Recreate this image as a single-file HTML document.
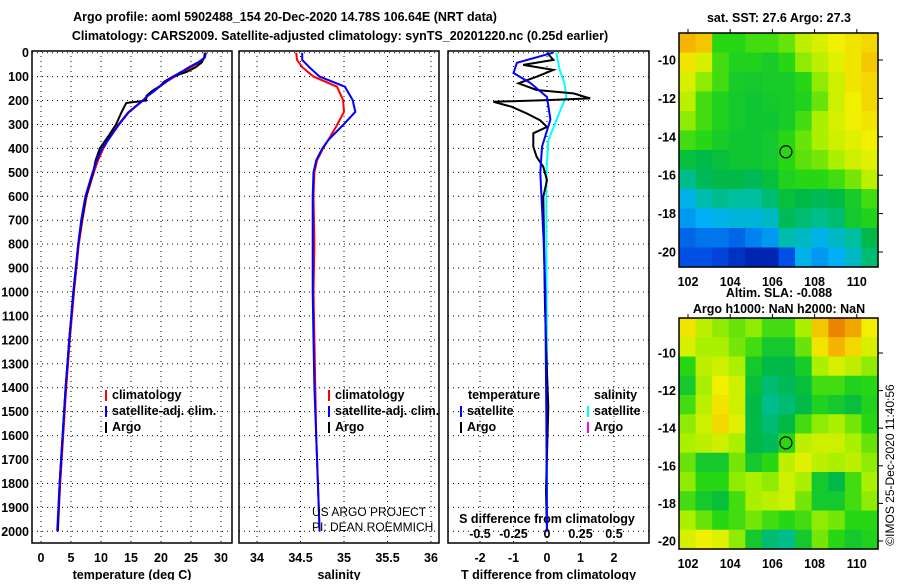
<!DOCTYPE html>
<html><head><meta charset="utf-8"><style>
body{margin:0;background:#fff}
svg{font-family:"Liberation Sans",sans-serif;}
.b{font-weight:bold;font-size:12.5px}
</style></head><body>
<svg id="s" width="900" height="580" viewBox="0 0 900 580" xmlns="http://www.w3.org/2000/svg">
<text class="b" x="285" y="21" text-anchor="middle" font-size="13.5">Argo profile: aoml 5902488_154 20-Dec-2020 14.78S 106.64E (NRT data)</text>
<text class="b" x="340" y="40" text-anchor="middle" font-size="13.5">Climatology: CARS2009. Satellite-adjusted climatology: synTS_20201220.nc (0.25d earlier)</text>
<text class="b" x="779" y="22" text-anchor="middle">sat. SST: 27.6 Argo: 27.3</text>
<text class="b" x="779" y="297" text-anchor="middle">Altim. SLA: -0.088</text>
<text class="b" x="779" y="313" text-anchor="middle">Argo h1000: NaN h2000: NaN</text>
<text x="894" y="465" font-size="12" text-anchor="middle" transform="rotate(-90 894 465)">©IMOS 25-Dec-2020 11:40:56</text>
<g id="g"></g>
</svg>
<script>
// temperature profile data
const tDepth=[0,20,40,60,80,100,120,140,160,180,200,210,250,300,350,400,450,500,600,700,800,900,1000,1200,1400,1600,1800,2000];
const tClim=[27.4,27.3,26.5,25,23.8,22.3,21,19.9,18.8,17.8,16.9,16.4,14.5,12.9,11.5,10.4,9.5,8.8,7.6,6.9,6.3,5.9,5.5,4.8,4.2,3.7,3.2,2.8];
const tSat=[27.5,27.3,26.2,24.7,23.4,22,20.9,19.8,18.9,17.8,17,16.5,14.6,13,11.6,10.2,9.3,8.6,7.4,6.7,6.2,5.8,5.4,4.7,4.1,3.6,3.1,2.7];
const tArgo=[27.3,27.2,26.8,25.8,24.3,22,20.6,19.8,18.5,17.6,17.5,14.2,13.4,12.5,11.2,9.8,9.1,8.7,7.5,6.8,6.2,5.8,5.4,4.7,4.1,3.6,3.1,2.8];
// salinity profile data
const sDepth=[0,30,60,100,142,198,247,302,365,400,450,500,600,800,1000,1200,1400,1600,1800,2000];
const sClim=[34.45,34.46,34.52,34.65,34.92,34.99,35.0,34.92,34.82,34.76,34.69,34.66,34.65,34.66,34.65,34.66,34.67,34.68,34.7,34.72];
const sSat=[34.52,34.52,34.6,34.72,35.01,35.1,35.13,34.99,34.82,34.75,34.68,34.65,34.64,34.64,34.64,34.65,34.66,34.68,34.7,34.72];
// difference data
const dTArgoDepth=[0,30,51,72,100,128,156,170,191,198,205,226,254,282,310,337,393,435,477,533,602,784,1063,1340,1481,1830,2000];
const dTArgo=[0,0.19,-0.71,0.19,-0.3,-0.85,-0.31,0.79,1.29,0,-1.6,-1.05,-0.6,-0.21,0,-0.41,-0.41,-0.31,-0.11,0,-0.11,-0.09,-0.06,0,0.04,-0.03,0];
const dTSatDepth=[0,42,85,126,185,280,393,502,645,782,1000,1500,2000];
const dTSat=[0.18,-0.9,-1.0,-0.5,0,0.1,-0.15,-0.2,-0.15,-0.1,-0.05,-0.02,0];
const dSSatDepth=[0,3,72,128,184,226,282,366,505,784,1340,2000];
const dSSat=[0.07,0.07,0.095,0.13,0.145,0.11,0.07,0.01,-0.005,-0.005,0.0,0.0];
const depthTicks=[0,100,200,300,400,500,600,700,800,900,1000,1100,1200,1300,1400,1500,1600,1700,1800,1900,2000];
const tTicks=[0,5,10,15,20,25,30];
const sTicks=[34,34.5,35,35.5,36];
const dTTicks=[-2,-1,0,1,2];
const dSTicks=[-0.5,-0.25,0,0.25,0.5];
const dSTickLabels=["-0.5","-0.25","0","0.25","0.5"];
// maps (rows top->bottom, cols west->east), normalized colour values
const sstGrid=[
[0.88,0.85,0.6,0.6,0.62,0.62,0.65,0.72,0.75,0.78,0.8,0.82],
[0.8,0.75,0.62,0.58,0.58,0.56,0.6,0.68,0.72,0.76,0.8,0.85],
[0.75,0.68,0.62,0.56,0.55,0.56,0.56,0.6,0.68,0.74,0.8,0.82],
[0.72,0.62,0.58,0.55,0.54,0.55,0.56,0.58,0.65,0.74,0.78,0.82],
[0.68,0.62,0.58,0.55,0.54,0.54,0.56,0.62,0.7,0.75,0.78,0.8],
[0.62,0.6,0.56,0.54,0.54,0.55,0.6,0.65,0.7,0.74,0.76,0.78],
[0.52,0.5,0.52,0.54,0.54,0.55,0.6,0.64,0.66,0.7,0.74,0.76],
[0.42,0.48,0.5,0.5,0.48,0.52,0.58,0.6,0.6,0.62,0.66,0.72],
[0.3,0.38,0.42,0.4,0.4,0.45,0.52,0.5,0.48,0.5,0.56,0.62],
[0.25,0.28,0.3,0.32,0.32,0.35,0.48,0.45,0.42,0.45,0.55,0.58],
[0.18,0.2,0.2,0.18,0.22,0.25,0.38,0.35,0.3,0.35,0.4,0.5],
[0.15,0.15,0.12,0.08,0.05,0.05,0.15,0.3,0.25,0.28,0.35,0.45]];
const slaGrid=[
[0.8,0.72,0.68,0.65,0.68,0.62,0.62,0.7,0.85,0.95,0.9,0.78],
[0.75,0.7,0.7,0.66,0.62,0.55,0.55,0.65,0.8,0.88,0.82,0.75],
[0.6,0.72,0.74,0.7,0.55,0.5,0.5,0.56,0.7,0.75,0.72,0.68],
[0.55,0.7,0.78,0.74,0.52,0.45,0.48,0.52,0.62,0.62,0.58,0.6],
[0.62,0.72,0.8,0.74,0.5,0.42,0.45,0.5,0.58,0.55,0.52,0.58],
[0.68,0.74,0.82,0.76,0.5,0.45,0.5,0.62,0.68,0.7,0.66,0.6],
[0.7,0.72,0.74,0.7,0.5,0.48,0.6,0.72,0.74,0.74,0.7,0.65],
[0.65,0.55,0.55,0.66,0.55,0.6,0.72,0.76,0.72,0.7,0.72,0.68],
[0.68,0.6,0.6,0.68,0.7,0.68,0.74,0.7,0.55,0.5,0.62,0.7],
[0.62,0.55,0.52,0.62,0.7,0.72,0.74,0.66,0.55,0.55,0.62,0.68],
[0.7,0.65,0.6,0.62,0.66,0.62,0.6,0.62,0.68,0.66,0.6,0.6],
[0.75,0.78,0.76,0.68,0.55,0.45,0.42,0.55,0.66,0.6,0.55,0.58]];
const lonTicks=[102,104,106,108,110];
const latTicks=[-10,-12,-14,-16,-18,-20];
const argoLon=106.64, argoLat=-14.78;

const NS="http://www.w3.org/2000/svg", G=document.getElementById('g');
function el(t,a,txt){const e=document.createElementNS(NS,t);for(const k in a)e.setAttribute(k,a[k]);if(txt!==undefined)e.textContent=txt;G.appendChild(e);return e;}
const PT=51,PB=543;
const yD=d=>52.7+d*0.2393;
const xT=v=>41+6*v, xS=v=>257+87*(v-34), xDT=v=>547+33.5*v, xDS=v=>547+134*v;
const panels=[{x0:32,x1:232,fx:xT,ticks:tTicks,lab:tTicks.map(String),title:'temperature (deg C)',n:'temperature'},
{x0:239,x1:439,fx:xS,ticks:sTicks,lab:sTicks.map(String),title:'salinity',n:'salinity'},
{x0:448,x1:649,fx:xDT,ticks:dTTicks,lab:dTTicks.map(String),title:'T difference from climatology',n:'difference'}];
panels.forEach(p=>{
  p.ticks.forEach((t,i)=>{const x=p.fx(t);
    let e=el('line',{x1:x,x2:x,y1:PT,y2:PB,stroke:'#000','stroke-width':1,'stroke-dasharray':'1,4'});
    
    e=el('text',{x:x,y:562,'text-anchor':'middle',class:'b'},p.lab[i]);
    
  });
  depthTicks.forEach(d=>{const y=yD(d);
    const e=el('line',{x1:p.x0,x2:p.x1,y1:y,y2:y,stroke:'#000','stroke-width':1,'stroke-dasharray':'1,4'});
    
  });
  let e=el('rect',{x:p.x0,y:PT,width:p.x1-p.x0,height:PB-PT,fill:'none',stroke:'#000','stroke-width':1.5});
  
  e=el('text',{x:(p.x0+p.x1)/2,y:579,'text-anchor':'middle',class:'b'},p.title);
  
});
depthTicks.forEach(d=>{const e=el('text',{x:29,y:yD(d)+4.5,'text-anchor':'end',class:'b'},String(d));
  });
dSTicks.forEach((t,i)=>{const e=el('text',{x:xDS(t),y:538,'text-anchor':'middle',class:'b'},dSTickLabels[i]);
  });
let e0=el('text',{x:547,y:523,'text-anchor':'middle',class:'b'},'S difference from climatology');

function line(xs,ds,fx,col,name,w){
  const pts=xs.map((v,i)=>fx(v).toFixed(1)+','+yD(ds[i]).toFixed(1)).join(' ');
  const e=el('polyline',{points:pts,fill:'none',stroke:col,'stroke-width':w||2});
  
}
line(tClim,tDepth,xT,'#f00','temp-climatology-line');
line(tArgo,tDepth,xT,'#000','temp-argo-line');
line(tSat,tDepth,xT,'#00f','temp-satellite-line');
line(sClim,sDepth,xS,'#f00','sal-climatology-line');
line(sSat,sDepth,xS,'#00f','sal-satellite-line');
line(dSSat,dSSatDepth,xDS,'#0ff','s-diff-satellite-line');
line(dTArgo,dTArgoDepth,xDT,'#000','t-diff-argo-line');
line(dTSat,dTSatDepth,xDT,'#00f','t-diff-satellite-line');
function leg(x,y,col,txt,name){
  let e=el('rect',{x:x,y:y-9,width:2,height:11,fill:col});
  
  e=el('text',{x:x+7,y:y,class:'b'},txt);
  
}
leg(105,399,'#f00','climatology','legend-temp-clim');
leg(105,415,'#00f','satellite-adj. clim.','legend-temp-sat');
leg(105,431,'#000','Argo','legend-temp-argo');
leg(328,399,'#f00','climatology','legend-sal-clim');
leg(328,415,'#00f','satellite-adj. clim.','legend-sal-sat');
leg(328,431,'#000','Argo','legend-sal-argo');
let e1=el('text',{x:468,y:399,class:'b'},'temperature');
e1=el('text',{x:594,y:399,class:'b'},'salinity');
leg(460,415,'#00f','satellite','legend-dt-sat');
leg(460,431,'#000','Argo','legend-dt-argo');
leg(587,415,'#0ff','satellite','legend-ds-sat');
leg(587,431,'#f0f','Argo','legend-ds-argo');
e1=el('text',{x:312,y:516,'font-size':'12'},'US ARGO PROJECT');
e1=el('text',{x:312,y:531,'font-size':'12'},'PI: DEAN ROEMMICH');
// colormap
const stops=[[0,[0,16,150]],[0.15,[0,80,230]],[0.28,[0,175,245]],[0.4,[0,190,160]],[0.5,[0,185,70]],[0.6,[40,215,20]],[0.7,[170,240,0]],[0.78,[240,240,0]],[0.88,[245,180,0]],[1,[225,100,0]]];
function cmap(v){for(let i=1;i<stops.length;i++){if(v<=stops[i][0]){const a=stops[i-1],b=stops[i],f=(v-a[0])/(b[0]-a[0]);return 'rgb('+a[1].map((c,k)=>Math.round(c+(b[1][k]-c)*f)).join(',')+')';}}return 'rgb(225,100,0)';}
function map(grid,y0,y1,lat10,lat20,name){
  const x0=679,x1=878,rows=grid.length,cols=grid[0].length,cw=(x1-x0)/cols,ch=(y1-y0)/rows;
  grid.forEach((r,i)=>r.forEach((v,j)=>{const e=el('rect',{x:x0+j*cw,y:y0+i*ch,width:cw+0.6,height:ch+0.6,fill:cmap(v)});
    }));
  const fx=l=>688+(l-102)*21.1, fy=l=>lat10+(l+10)*(lat20-lat10)/-10;
  let e=el('rect',{x:x0,y:y0,width:x1-x0,height:y1-y0,fill:'none',stroke:'#000','stroke-width':1.5});
  
  lonTicks.forEach(l=>{e=el('text',{x:fx(l),y:y1+19,'text-anchor':'middle',class:'b'},String(l));
    
    e=el('line',{x1:fx(l),x2:fx(l),y1:y0-4,y2:y0,stroke:'#000'});});
  latTicks.forEach(l=>{e=el('text',{x:676,y:fy(l)+4.5,'text-anchor':'end',class:'b'},String(l));
    
    e=el('line',{x1:x1,x2:x1+5,y1:fy(l),y2:fy(l),stroke:'#000'});});
  e=el('circle',{cx:fx(argoLon),cy:fy(argoLat),r:6,fill:'none',stroke:'#000','stroke-width':1.2});
  
}
map(sstGrid,33,267,60,252,'sst-map');
map(slaGrid,318,549,353,541,'sla-map');
</script>
</body></html>
